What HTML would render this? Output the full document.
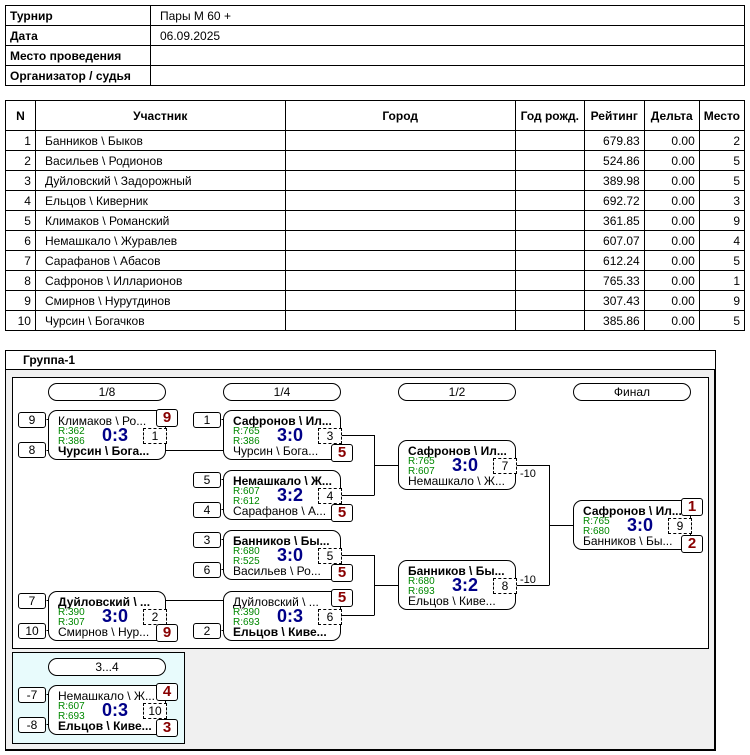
<!DOCTYPE html>
<html><head><meta charset="utf-8">
<style>
*{box-sizing:border-box;margin:0;padding:0}
body{width:750px;height:755px;background:#fff;font-family:"Liberation Sans",Arial,sans-serif;font-size:12px;color:#000;position:relative;overflow:hidden}
.a{position:absolute}
table{border-collapse:collapse;position:absolute}
td,th{border:1px solid #000;padding:0 4px;height:20px;font-size:12px;white-space:nowrap}
th{font-weight:bold;text-align:center}
.r{text-align:right}
.pl{padding-left:9px}
.m{position:absolute;width:118px;height:50px;border:1px solid #000;border-radius:9px;background:#fff}
.m div{position:absolute;white-space:nowrap;overflow:hidden}
.t{left:9px;top:3px;font-size:12px;width:104px}
.b{left:9px;top:33px;font-size:12px;width:104px}
.bo{font-weight:bold}
.g1{left:9px;top:15px;font-size:10px;color:#080}
.g2{left:9px;top:25px;font-size:10px;color:#080}
.sc{left:46px;top:14px;font-size:18px;font-weight:bold;color:#008;width:40px;text-align:center}
.n{left:94px;top:17px;width:24px;height:16px;border:1px dashed #000;text-align:center;font-size:12px;line-height:14px;background:#fff}
.bd{position:absolute;width:22px;height:18px;border:1px solid #000;border-radius:3px;background:#fff;color:#800;font-weight:bold;font-size:15px;text-align:center;line-height:16px}
.s{position:absolute;width:28px;height:16px;border:1px solid #000;border-radius:3px;background:#fff;text-align:center;line-height:14px;font-size:12px}
.p{position:absolute;width:118px;height:18px;border:1px solid #000;border-radius:9px;background:#fff;text-align:center;line-height:16px;font-size:12px}
</style></head><body>

<table style="left:5px;top:5px;width:740px">
<tr><td style="width:145px;font-weight:bold">Турнир</td><td class="pl">Пары М 60 +</td></tr>
<tr><td style="font-weight:bold">Дата</td><td class="pl">06.09.2025</td></tr>
<tr><td style="font-weight:bold">Место проведения</td><td></td></tr>
<tr><td style="font-weight:bold">Организатор / судья</td><td></td></tr>
</table>

<table style="left:5px;top:100px;width:740px">
<tr style="height:30px"><th style="width:30px;height:30px">N</th><th style="width:250px">Участник</th><th style="width:231px">Город</th><th style="width:69px">Год рожд.</th><th style="width:60px">Рейтинг</th><th style="width:55px">Дельта</th><th>Место</th></tr>
<tr><td class="r">1</td><td class="pl">Банников \ Быков</td><td></td><td></td><td class="r">679.83</td><td class="r">0.00</td><td class="r">2</td></tr>
<tr><td class="r">2</td><td class="pl">Васильев \ Родионов</td><td></td><td></td><td class="r">524.86</td><td class="r">0.00</td><td class="r">5</td></tr>
<tr><td class="r">3</td><td class="pl">Дуйловский \ Задорожный</td><td></td><td></td><td class="r">389.98</td><td class="r">0.00</td><td class="r">5</td></tr>
<tr><td class="r">4</td><td class="pl">Ельцов \ Киверник</td><td></td><td></td><td class="r">692.72</td><td class="r">0.00</td><td class="r">3</td></tr>
<tr><td class="r">5</td><td class="pl">Климаков \ Романский</td><td></td><td></td><td class="r">361.85</td><td class="r">0.00</td><td class="r">9</td></tr>
<tr><td class="r">6</td><td class="pl">Немашкало \ Журавлев</td><td></td><td></td><td class="r">607.07</td><td class="r">0.00</td><td class="r">4</td></tr>
<tr><td class="r">7</td><td class="pl">Сарафанов \ Абасов</td><td></td><td></td><td class="r">612.24</td><td class="r">0.00</td><td class="r">5</td></tr>
<tr><td class="r">8</td><td class="pl">Сафронов \ Илларионов</td><td></td><td></td><td class="r">765.33</td><td class="r">0.00</td><td class="r">1</td></tr>
<tr><td class="r">9</td><td class="pl">Смирнов \ Нурутдинов</td><td></td><td></td><td class="r">307.43</td><td class="r">0.00</td><td class="r">9</td></tr>
<tr><td class="r">10</td><td class="pl">Чурсин \ Богачков</td><td></td><td></td><td class="r">385.86</td><td class="r">0.00</td><td class="r">5</td></tr>
</table>

<div class="a" style="left:5px;top:350px;width:711px;height:401px;border:1px solid #000;border-right-width:2px;border-bottom-width:2px;background:#f0f0f0"></div>
<div class="a" style="left:5px;top:350px;width:711px;height:20px;border:1px solid #000;background:#fff;font-weight:bold;padding:2px 0 0 17px">Группа-1</div>
<div class="a" style="left:12px;top:377px;width:697px;height:272px;border:1px solid #000;background:#fff"></div>
<div class="a" style="left:12px;top:652px;width:173px;height:92px;border:1px solid #000;background:#e8fbfc"></div>

<svg class="a" style="left:0;top:0" width="750" height="755">
<g stroke="#000" stroke-width="1" fill="none">
<path d="M46.5 419.5h2 M46.5 450.5h2 M46.5 600.5h2 M46.5 630.5h2 M46.5 694.5h2 M46.5 724.5h2"/>
<path d="M221.5 419.5h2 M221.5 479.5h2 M221.5 509.5h2 M221.5 539.5h2 M221.5 569.5h2 M221.5 630.5h2"/>
<path d="M166 450.5h58 M166 600.5h58"/>
<path d="M341 435.5h33.5v60 M341 495.5h33 M374.5 465.5h25"/>
<path d="M341 555.5h33.5v60 M341 615.5h33 M374.5 585.5h25"/>
<path d="M517 465.5h32.5v120 M517 585.5h32 M549.5 525.5h24"/>
<path d="M690.5 516v20"/>
</g>
<g font-family="Liberation Sans,Arial,sans-serif" font-size="11">
<text x="520" y="477">-10</text>
<text x="520" y="583">-10</text>
</g>
</svg>

<div class="p" style="left:48px;top:383px">1/8</div>
<div class="p" style="left:223px;top:383px">1/4</div>
<div class="p" style="left:398px;top:383px">1/2</div>
<div class="p" style="left:573px;top:383px">Финал</div>
<div class="p" style="left:48px;top:658px">3...4</div>

<div class="s" style="left:18px;top:412px">9</div>
<div class="s" style="left:18px;top:442px">8</div>
<div class="s" style="left:18px;top:593px">7</div>
<div class="s" style="left:18px;top:623px">10</div>
<div class="s" style="left:193px;top:412px">1</div>
<div class="s" style="left:193px;top:472px">5</div>
<div class="s" style="left:193px;top:502px">4</div>
<div class="s" style="left:193px;top:532px">3</div>
<div class="s" style="left:193px;top:562px">6</div>
<div class="s" style="left:193px;top:623px">2</div>
<div class="s" style="left:18px;top:687px">-7</div>
<div class="s" style="left:18px;top:717px">-8</div>

<div class="m" style="left:48px;top:410px"><div class="t">Климаков \ Ро...</div><div class="g1">R:362</div><div class="g2">R:386</div><div class="sc">0:3</div><div class="n">1</div><div class="b bo">Чурсин \ Бога...</div></div>
<div class="bd" style="left:156px;top:409px">9</div>
<div class="m" style="left:48px;top:591px"><div class="t bo">Дуйловский \ ...</div><div class="g1">R:390</div><div class="g2">R:307</div><div class="sc">3:0</div><div class="n">2</div><div class="b">Смирнов \ Нур...</div></div>
<div class="bd" style="left:156px;top:624px">9</div>
<div class="m" style="left:223px;top:410px"><div class="t bo">Сафронов \ Ил...</div><div class="g1">R:765</div><div class="g2">R:386</div><div class="sc">3:0</div><div class="n">3</div><div class="b">Чурсин \ Бога...</div></div>
<div class="bd" style="left:331px;top:444px">5</div>
<div class="m" style="left:223px;top:470px"><div class="t bo">Немашкало \ Ж...</div><div class="g1">R:607</div><div class="g2">R:612</div><div class="sc">3:2</div><div class="n">4</div><div class="b">Сарафанов \ А...</div></div>
<div class="bd" style="left:331px;top:504px">5</div>
<div class="m" style="left:223px;top:530px"><div class="t bo">Банников \ Бы...</div><div class="g1">R:680</div><div class="g2">R:525</div><div class="sc">3:0</div><div class="n">5</div><div class="b">Васильев \ Ро...</div></div>
<div class="bd" style="left:331px;top:564px">5</div>
<div class="m" style="left:223px;top:591px"><div class="t">Дуйловский \ ...</div><div class="g1">R:390</div><div class="g2">R:693</div><div class="sc">0:3</div><div class="n">6</div><div class="b bo">Ельцов \ Киве...</div></div>
<div class="bd" style="left:331px;top:589px">5</div>
<div class="m" style="left:398px;top:440px"><div class="t bo">Сафронов \ Ил...</div><div class="g1">R:765</div><div class="g2">R:607</div><div class="sc">3:0</div><div class="n">7</div><div class="b">Немашкало \ Ж...</div></div>
<div class="m" style="left:398px;top:560px"><div class="t bo">Банников \ Бы...</div><div class="g1">R:680</div><div class="g2">R:693</div><div class="sc">3:2</div><div class="n">8</div><div class="b">Ельцов \ Киве...</div></div>
<div class="m" style="left:573px;top:500px"><div class="t bo">Сафронов \ Ил...</div><div class="g1">R:765</div><div class="g2">R:680</div><div class="sc">3:0</div><div class="n">9</div><div class="b">Банников \ Бы...</div></div>
<div class="bd" style="left:681px;top:498px">1</div>
<div class="bd" style="left:681px;top:535px">2</div>
<div class="m" style="left:48px;top:685px"><div class="t">Немашкало \ Ж...</div><div class="g1">R:607</div><div class="g2">R:693</div><div class="sc">0:3</div><div class="n">10</div><div class="b bo">Ельцов \ Киве...</div></div>
<div class="bd" style="left:156px;top:683px">4</div>
<div class="bd" style="left:156px;top:719px">3</div>

</body></html>
